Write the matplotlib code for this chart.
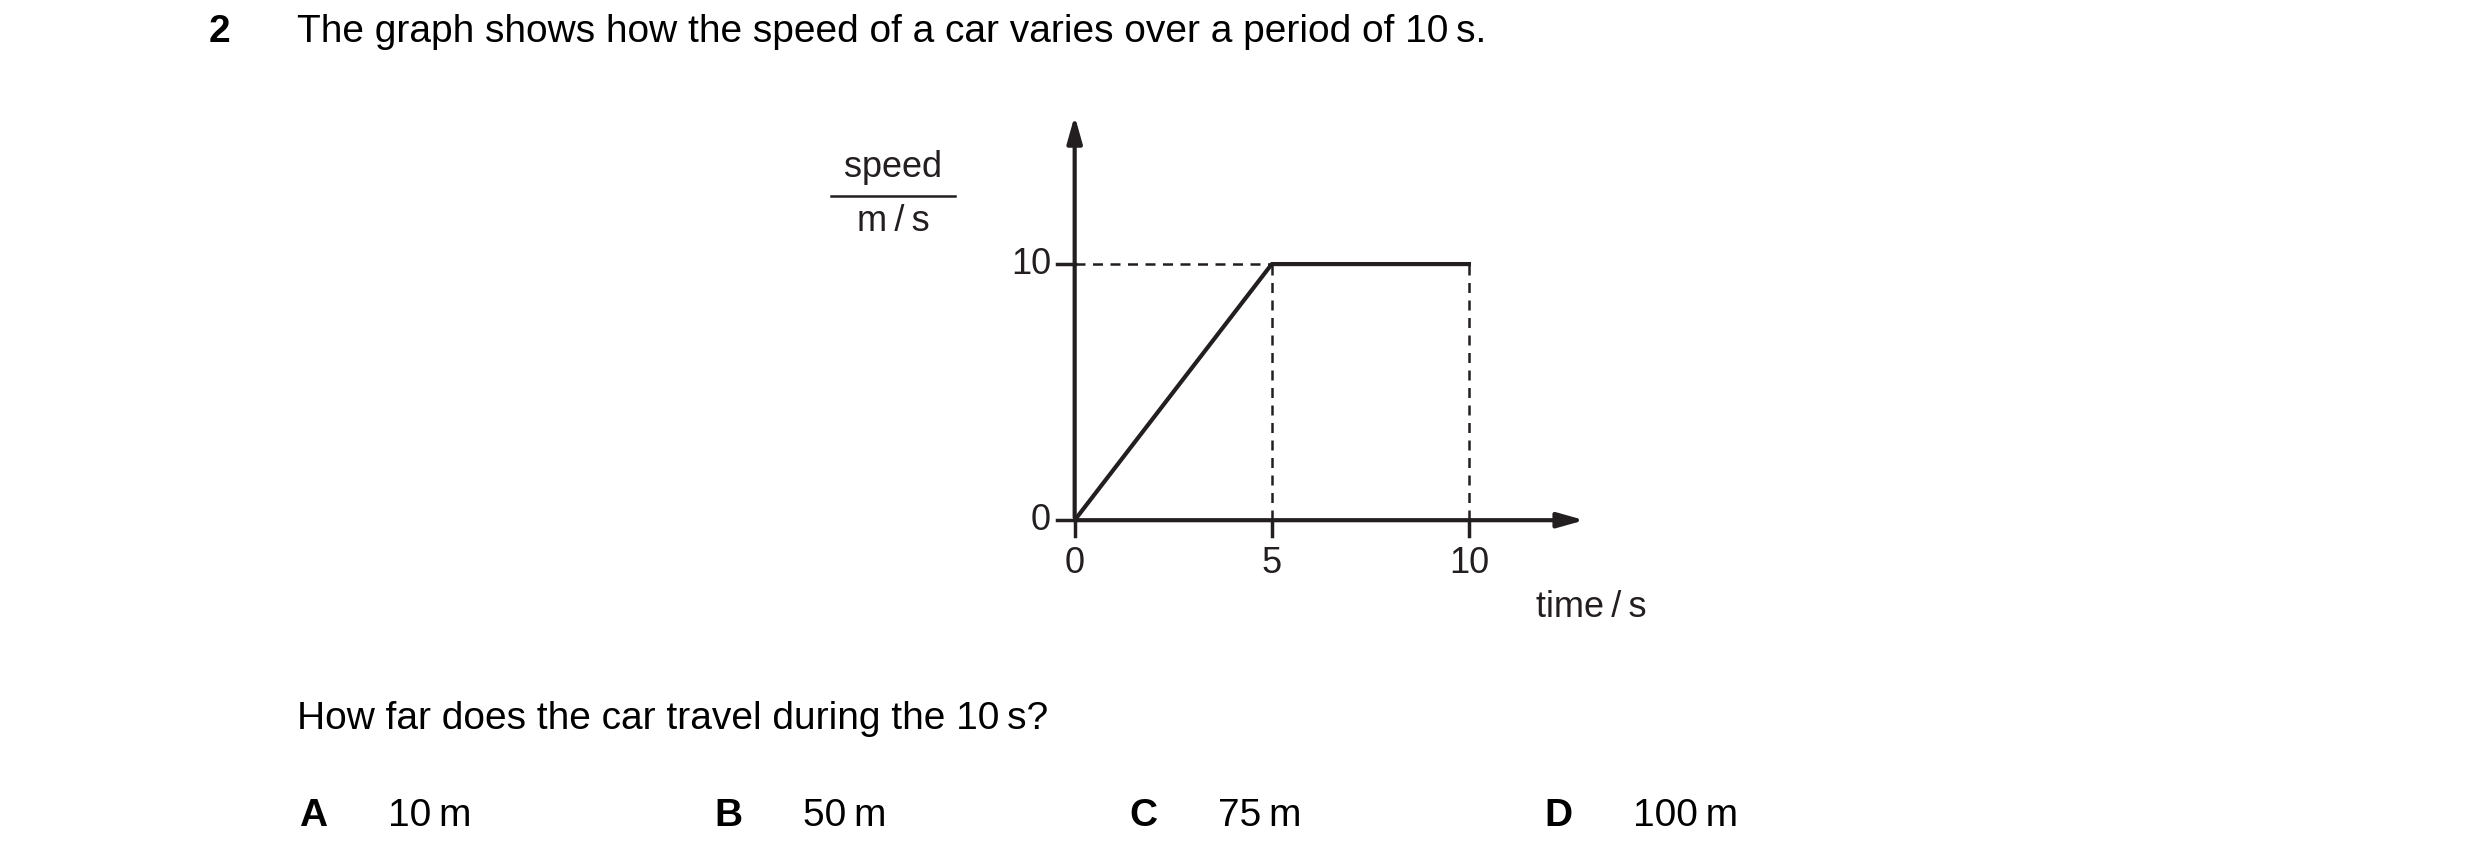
import matplotlib
matplotlib.use("Agg")
import matplotlib.pyplot as plt

plt.rcParams['font.family'] = ['Liberation Sans', 'DejaVu Sans']

time_pts = [0, 5, 10]
speed_pts = [0, 10, 10]
xticks = [0, 5, 10]
yticks = [0, 10]
options = [("A", "10\u2009m"), ("B", "50\u2009m"), ("C", "75\u2009m"), ("D", "100\u2009m")]

W, H = 1560, 545
fig = plt.figure(figsize=(24.8, 8.67), dpi=100)

def fx(x): return x / W
def fy(y): return 1 - y / H

fs = 28
fig.text(fx(138), fy(20), "2", fontsize=fs, fontweight='bold', ha='center', va='center')
fig.text(fx(187), fy(20), "The graph shows how the speed of a car varies over a period of 10\u2009s.", fontsize=fs, ha='left', va='center')
fig.text(fx(187), fy(452), "How far does the car travel during the 10\u2009s?", fontsize=fs, ha='left', va='center')
letx = [197, 458, 719, 980]
for (l, t), x in zip(options, letx):
    fig.text(fx(x), fy(513), l, fontsize=fs, fontweight='bold', ha='center', va='center')
    fig.text(fx(x + 47), fy(513), t, fontsize=fs, ha='left', va='center')

ux = (924 - 676) / 10 / W
uy = (327 - 166) / 10 / H
ax = fig.add_axes([fx(676), fy(327), 13 * ux, 16 * uy])
ax.set_xlim(0, 13)
ax.set_ylim(0, 16)
ax.axis('off')
c = '#231f20'
ax.plot(time_pts, speed_pts, color=c, lw=3, clip_on=False)
ax.annotate('', xy=(13.0, 0), xytext=(0, 0), arrowprops=dict(arrowstyle='-|>,head_length=1.6,head_width=0.45', color=c, lw=3), annotation_clip=False)
ax.annotate('', xy=(0, 15.9), xytext=(0, 0), arrowprops=dict(arrowstyle='-|>,head_length=1.6,head_width=0.45', color=c, lw=3), annotation_clip=False)
ax.plot([0, 5], [10, 10], ls=(0, (4, 3)), color=c, lw=1.8)
ax.plot([5, 5], [0, 10], ls=(0, (4, 3)), color=c, lw=1.8)
ax.plot([10, 10], [0, 10], ls=(0, (4, 3)), color=c, lw=1.8)
for t in xticks:
    ax.plot([t, t], [0, -0.6], color=c, lw=2.5, clip_on=False)
    ax.text(t, -1.0, str(t), fontsize=26, ha='center', va='top', color=c)
for t in yticks:
    ax.plot([-0.45, 0], [t, t], color=c, lw=2.5, clip_on=False)
    ax.text(-0.6, t, str(t), fontsize=26, ha='right', va='center', color=c)

fig.text(fx(562), fy(105), "speed", fontsize=26, ha='center', va='center', color=c)
fig.add_artist(plt.Line2D([fx(523), fx(601)], [fy(123), fy(123)], color=c, lw=1.8))
fig.text(fx(562), fy(139), "m\u2009/\u2009s", fontsize=26, ha='center', va='center', color=c)
fig.text(fx(1001), fy(382), "time\u2009/\u2009s", fontsize=26, ha='center', va='center', color=c)

fig.savefig("out.png", dpi=100)
